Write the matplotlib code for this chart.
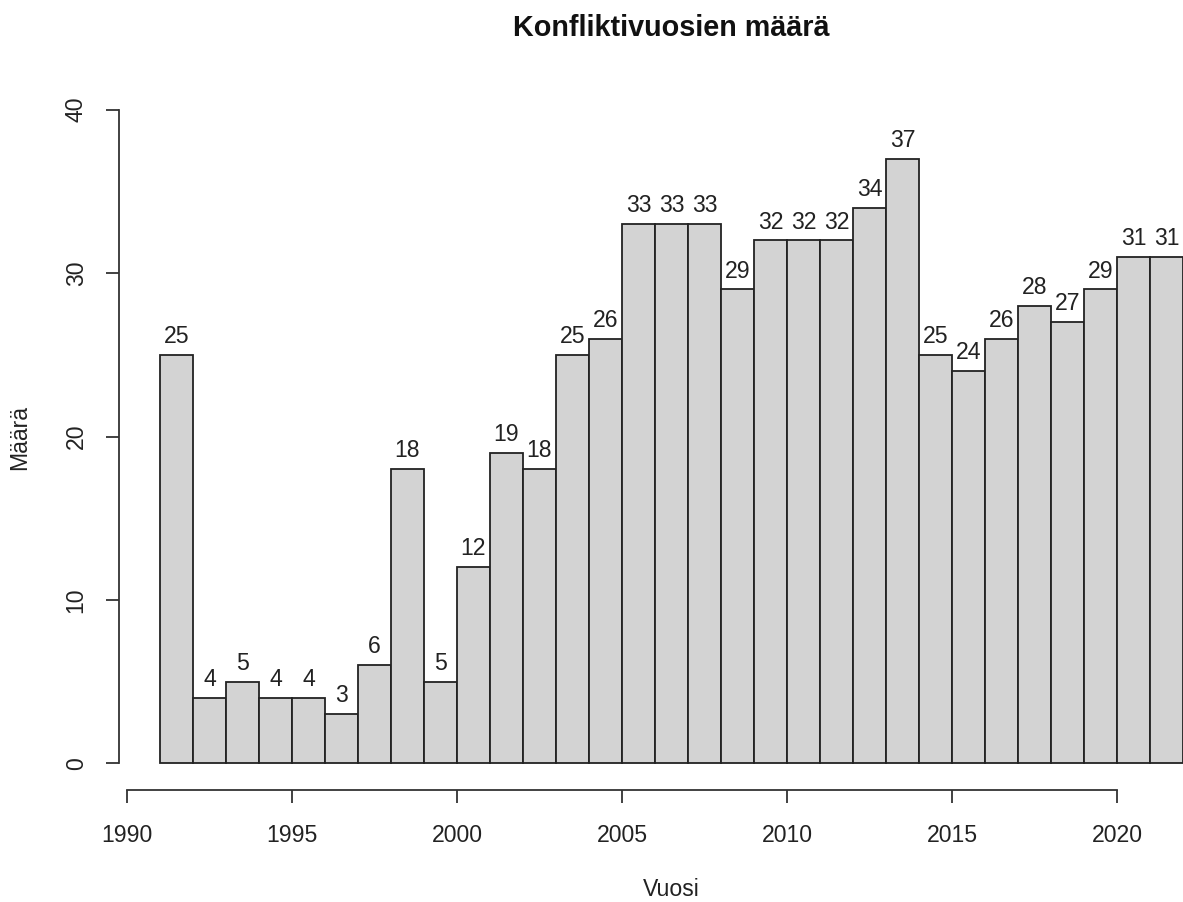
import numpy as np
import matplotlib.pyplot as plt

plt.rcParams['font.family'] = ['Liberation Sans', 'DejaVu Sans']

# --- data: conflict counts per year (bins 1991..2022)
years = np.arange(1991, 2022)
counts = [25, 4, 5, 4, 4, 3, 6, 18, 5, 12, 19, 18, 25, 26, 33, 33, 33, 29,
          32, 32, 32, 34, 37, 25, 24, 26, 28, 27, 29, 31, 31]
xticks = [1990, 1995, 2000, 2005, 2010, 2015, 2020]
yticks = [0, 10, 20, 30, 40]

W, H = 1183, 902
fig = plt.figure(figsize=(W / 100, H / 100), dpi=100)

# R-style plot region, extends past the right edge (cropped like the original)
x0, x1 = 1989.76, 2023.24
y0, y1 = -1.6, 41.6
left_px, right_px = 119, 1224
bot_px, top_px = 789.5, 83.6
ax = fig.add_axes([left_px / W, 1 - bot_px / H,
                   (right_px - left_px) / W, (bot_px - top_px) / H])
ax.set_xlim(x0, x1)
ax.set_ylim(y0, y1)

ax.bar(years, counts, width=1.0, align='edge', color='#D3D3D3',
       edgecolor='#222222', linewidth=1.3, clip_on=False)

for x, c in zip(years, counts):
    ax.annotate(str(c), (x + 0.5, c), xytext=(0, 5), textcoords='offset points',
                ha='center', va='bottom', fontsize=16.6, color='#222222')

for s in ['top', 'right']:
    ax.spines[s].set_visible(False)
ax.spines['left'].set_bounds(0, 40)
ax.spines['bottom'].set_bounds(1990, 2020)
for s in ['left', 'bottom']:
    ax.spines[s].set_linewidth(1.3)
    ax.spines[s].set_color('#333333')

# bottom axis drawn a bit below the plot region, like R's axis()
ax.spines['bottom'].set_position(('data', -1.6))

ax.set_xticks(xticks)
ax.set_yticks(yticks)
ax.tick_params(axis='both', length=9.5, width=1.3, color='#333333',
               labelsize=16.6, labelcolor='#222222')
ax.tick_params(axis='x', pad=15)
ax.tick_params(axis='y', pad=13)
for lab in ax.get_yticklabels():
    lab.set_rotation(90)
    lab.set_va('center')

cx = (left_px + right_px) / 2 / W
fig.text(cx, 1 - 28 / H, 'Konfliktivuosien määrä', ha='center', va='center',
         fontsize=20.7, fontweight='bold', color='#111111')
fig.text(cx, 1 - 889 / H, 'Vuosi', ha='center', va='center',
         fontsize=16.6, color='#222222')
fig.text(20 / W, 1 - 437 / H, 'Määrä', ha='center', va='center',
         rotation=90, fontsize=16.6, color='#222222')

fig.savefig('out.png', dpi=100)
